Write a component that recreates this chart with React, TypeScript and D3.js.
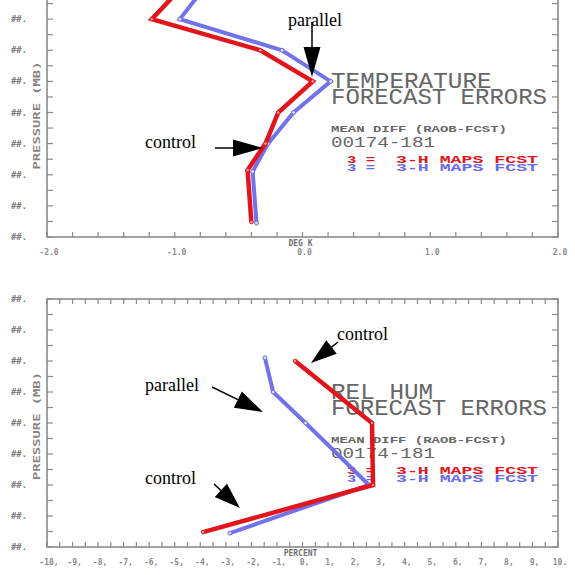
import React from "react";
import * as d3 from "d3";

// ---------- data ----------
const PRESSURE_TICKS = [200, 300, 400, 500, 600, 700, 800, 900, 1000];
const PRESSURE_TICK_LABEL = "##.";

const TEMP_X_TICKS = [-2, -1, 0, 1, 2];
const TEMP_X_LABELS = ["-2.0", "-1.0", "0.0", "1.0", "2.0"];
const RH_X_TICKS = [-10, -9, -8, -7, -6, -5, -4, -3, -2, -1, 0, 1, 2, 3, 4, 5, 6, 7, 8, 9, 10];
const RH_X_LABELS = ["-10,", "-9,", "-8,", "-7,", "-6,", "-5,", "-4,", "-3,", "-2,", "-1,", "0,", "1,", "2,", "3,", "4,", "5,", "6,", "7,", "8,", "9,", "10."];

// Temperature panel (deg K vs pressure mb)
const TEMP_CONTROL_P = [200, 300, 400, 500, 600, 700, 785, 952];
const TEMP_CONTROL_V = [-0.95, -1.18, -0.33, 0.08, -0.19, -0.29, -0.43, -0.4];
const TEMP_PARALLEL_P = [200, 300, 400, 500, 600, 700, 790, 955];
const TEMP_PARALLEL_V = [-0.77, -0.96, -0.16, 0.22, -0.07, -0.27, -0.39, -0.36];

// Rel hum panel (percent vs pressure mb)
const RH_CONTROL_P = [400, 600, 800, 952];
const RH_CONTROL_V = [-0.29, 2.72, 2.76, -3.89];
const RH_PARALLEL_P = [390, 500, 600, 800, 955];
const RH_PARALLEL_V = [-1.47, -1.15, 0.12, 2.6, -2.84];

const TEMP_TITLE = ["TEMPERATURE", "FORECAST ERRORS"];
const RH_TITLE = ["REL HUM", "FORECAST ERRORS"];
const SUBTITLE = "MEAN DIFF (RAOB-FCST)";
const DATE_RANGE = "00174-181";
const LEGEND_KEY = "3 =";
const LEGEND_LABEL = "3-H MAPS FCST";

const RED = "#e2141c";
const BLUE = "#6a6aec";
const GRAY = "#666";
const AXIS = "#8a8a8a";

type Pt = { p: number; v: number };
const zip = (ps: number[], vs: number[]): Pt[] => ps.map((p, i) => ({ p, v: vs[i] }));

function Arrow({ x1, y1, x2, y2, head = 28, w = 9 }: any) {
  const dx = x2 - x1, dy = y2 - y1;
  const L = Math.hypot(dx, dy);
  const ux = dx / L, uy = dy / L;
  const bx = x2 - ux * head, by = y2 - uy * head;
  const px = -uy, py = ux;
  return (
    <g>
      <line x1={x1} y1={y1} x2={bx} y2={by} stroke="#000" strokeWidth={1.5} />
      <polygon
        points={`${x2},${y2} ${bx + px * w},${by + py * w} ${bx - px * w},${by - py * w}`}
        fill="#000"
      />
    </g>
  );
}

function Panel({ top, bottom, xDomain, xTicks, xLabels, minorStep, unitLabel, title, control, parallel, showTopTicks }: any) {
  const left = 47, right = 558;
  const x = d3.scaleLinear().domain(xDomain).range([left, right]);
  const y = d3.scaleLinear().domain([200, 1000]).range([top, bottom]);
  const line = d3.line<Pt>().x((d) => x(d.v)).y((d) => y(d.p));
  const minorX = d3.range(xDomain[0], xDomain[1] + 1e-9, minorStep);
  const minorY = d3.range(200, 1000 + 1e-9, 50);
  const textTop = top + 85;
  return (
    <g>
      {/* frame */}
      <rect x={left} y={top} width={right - left} height={bottom - top} fill="none" stroke={AXIS} strokeWidth={1.6} />
      {minorY.map((p: number) => (
        <g key={"y" + p}>
          <line x1={left} x2={left + 6} y1={y(p)} y2={y(p)} stroke={AXIS} strokeWidth={1.2} />
          <line x1={right} x2={right - 6} y1={y(p)} y2={y(p)} stroke={AXIS} strokeWidth={1.2} />
        </g>
      ))}
      {minorX.map((v: number) => (
        <g key={"x" + v}>
          <line x1={x(v)} x2={x(v)} y1={bottom} y2={bottom - 5} stroke={AXIS} strokeWidth={1.2} />
          {showTopTicks && <line x1={x(v)} x2={x(v)} y1={top} y2={top + 5} stroke={AXIS} strokeWidth={1.2} />}
        </g>
      ))}
      {PRESSURE_TICKS.filter((p) => y(p) > 6).map((p) => (
        <text key={"yl" + p} x={11} y={y(p) + 3} fontFamily="DejaVu Sans Mono" fontWeight="bold" fontSize={8} fill="#808080" textLength={16} lengthAdjust="spacingAndGlyphs">
          {PRESSURE_TICK_LABEL}
        </text>
      ))}
      <text
        transform={`translate(40,${(top + bottom) / 2 + 3}) rotate(-90)`}
        textAnchor="middle"
        fontFamily="DejaVu Sans Mono"
        fontSize={9}
        fontWeight="bold"
        fill="#858585"
        textLength={108}
        lengthAdjust="spacingAndGlyphs"
      >
        PRESSURE (MB)
      </text>
      {xTicks.map((v: number, i: number) => (
        <text key={"xl" + v} x={x(v) + 2} y={bottom + 18} textAnchor="middle" fontFamily="DejaVu Sans Mono" fontWeight="bold" fontSize={8} fill="#8a8a8a">
          {xLabels[i]}
        </text>
      ))}
      <text x={x(0) - 2} y={bottom + 9} textAnchor="middle" fontFamily="DejaVu Sans Mono" fontWeight="bold" fontSize={8} fill="#707070">
        {unitLabel}
      </text>

      {/* titles */}
      <text x={331} y={textTop + 15} fontFamily="Liberation Mono" fontSize={22} fill={GRAY} textLength={title[0].length * 14.6} lengthAdjust="spacingAndGlyphs">
        {title[0]}
      </text>
      <text x={331} y={textTop + 31} fontFamily="Liberation Mono" fontSize={22} fill={GRAY} textLength={216} lengthAdjust="spacingAndGlyphs">
        {title[1]}
      </text>
      <text x={331} y={textTop + 59} fontFamily="Liberation Mono" fontWeight="bold" fontSize={9} fill={GRAY} textLength={176} lengthAdjust="spacingAndGlyphs">
        {SUBTITLE}
      </text>
      <text x={331} y={textTop + 74} fontFamily="Liberation Mono" fontSize={15} fill={GRAY} textLength={104} lengthAdjust="spacingAndGlyphs">
        {DATE_RANGE}
      </text>
      <text x={347} y={textTop + 90} fontFamily="Liberation Mono" fontWeight="bold" fontSize={11} fill={RED} textLength={28} lengthAdjust="spacingAndGlyphs">
        {LEGEND_KEY}
      </text>
      <text x={396} y={textTop + 90} fontFamily="Liberation Mono" fontWeight="bold" fontSize={11} fill={RED} textLength={142} lengthAdjust="spacingAndGlyphs">
        {LEGEND_LABEL}
      </text>
      <text x={347} y={textTop + 98} fontFamily="Liberation Mono" fontWeight="bold" fontSize={11} fill={BLUE} textLength={28} lengthAdjust="spacingAndGlyphs">
        {LEGEND_KEY}
      </text>
      <text x={396} y={textTop + 98} fontFamily="Liberation Mono" fontWeight="bold" fontSize={11} fill={BLUE} textLength={142} lengthAdjust="spacingAndGlyphs">
        {LEGEND_LABEL}
      </text>

      {/* series */}
      <path d={line(parallel) || ""} fill="none" stroke={BLUE} strokeWidth={4} strokeLinejoin="miter" opacity={0.95} />
      {parallel.map((d: Pt, i: number) => (
        <circle key={"bp" + i} cx={x(d.v)} cy={y(d.p)} r={2} fill="#ddd" stroke={BLUE} strokeWidth={1} />
      ))}
      <path d={line(control) || ""} fill="none" stroke={RED} strokeWidth={4.5} strokeLinejoin="miter" />
      {control.map((d: Pt, i: number) => (
        <circle key={"rp" + i} cx={x(d.v)} cy={y(d.p)} r={1.8} fill="#f3a0a0" stroke={RED} strokeWidth={1} />
      ))}
    </g>
  );
}

export default function App() {
  return (
    <div style={{ position: "fixed", left: 0, top: 0, width: 575, height: 575, background: "#fff" }}>
      <svg width={575} height={575} style={{ display: "block" }}>
        <rect width={575} height={575} fill="#fff" />
        <Panel
          top={-12}
          bottom={237}
          xDomain={[-2, 2]}
          xTicks={TEMP_X_TICKS}
          xLabels={TEMP_X_LABELS}
          minorStep={0.2}
          unitLabel="DEG K"
          title={TEMP_TITLE}
          control={zip(TEMP_CONTROL_P, TEMP_CONTROL_V)}
          parallel={zip(TEMP_PARALLEL_P, TEMP_PARALLEL_V)}
          showTopTicks={false}
        />
        <Panel
          top={299}
          bottom={547}
          xDomain={[-10, 10]}
          xTicks={RH_X_TICKS}
          xLabels={RH_X_LABELS}
          minorStep={0.5}
          unitLabel="PERCENT"
          title={RH_TITLE}
          control={zip(RH_CONTROL_P, RH_CONTROL_V)}
          parallel={zip(RH_PARALLEL_P, RH_PARALLEL_V)}
          showTopTicks={true}
        />
        {/* annotations */}
        <g fontFamily="Liberation Serif" fontSize={18} fill="#000">
          <text x={288} y={26}>parallel</text>
          <Arrow x1={312} y1={22} x2={312} y2={77} head={30} w={8.5} />
          <text x={145} y={148}>control</text>
          <Arrow x1={215} y1={148} x2={263} y2={148} head={30} w={8.5} />
          <text x={337} y={340}>control</text>
          <Arrow x1={338} y1={342} x2={311} y2={363} head={26} w={8.5} />
          <text x={145} y={391}>parallel</text>
          <Arrow x1={212} y1={387} x2={263} y2={412} head={28} w={9} />
          <text x={145} y={484}>control</text>
          <Arrow x1={214} y1={484} x2={240} y2={508} head={26} w={9} />
        </g>
      </svg>
    </div>
  );
}
